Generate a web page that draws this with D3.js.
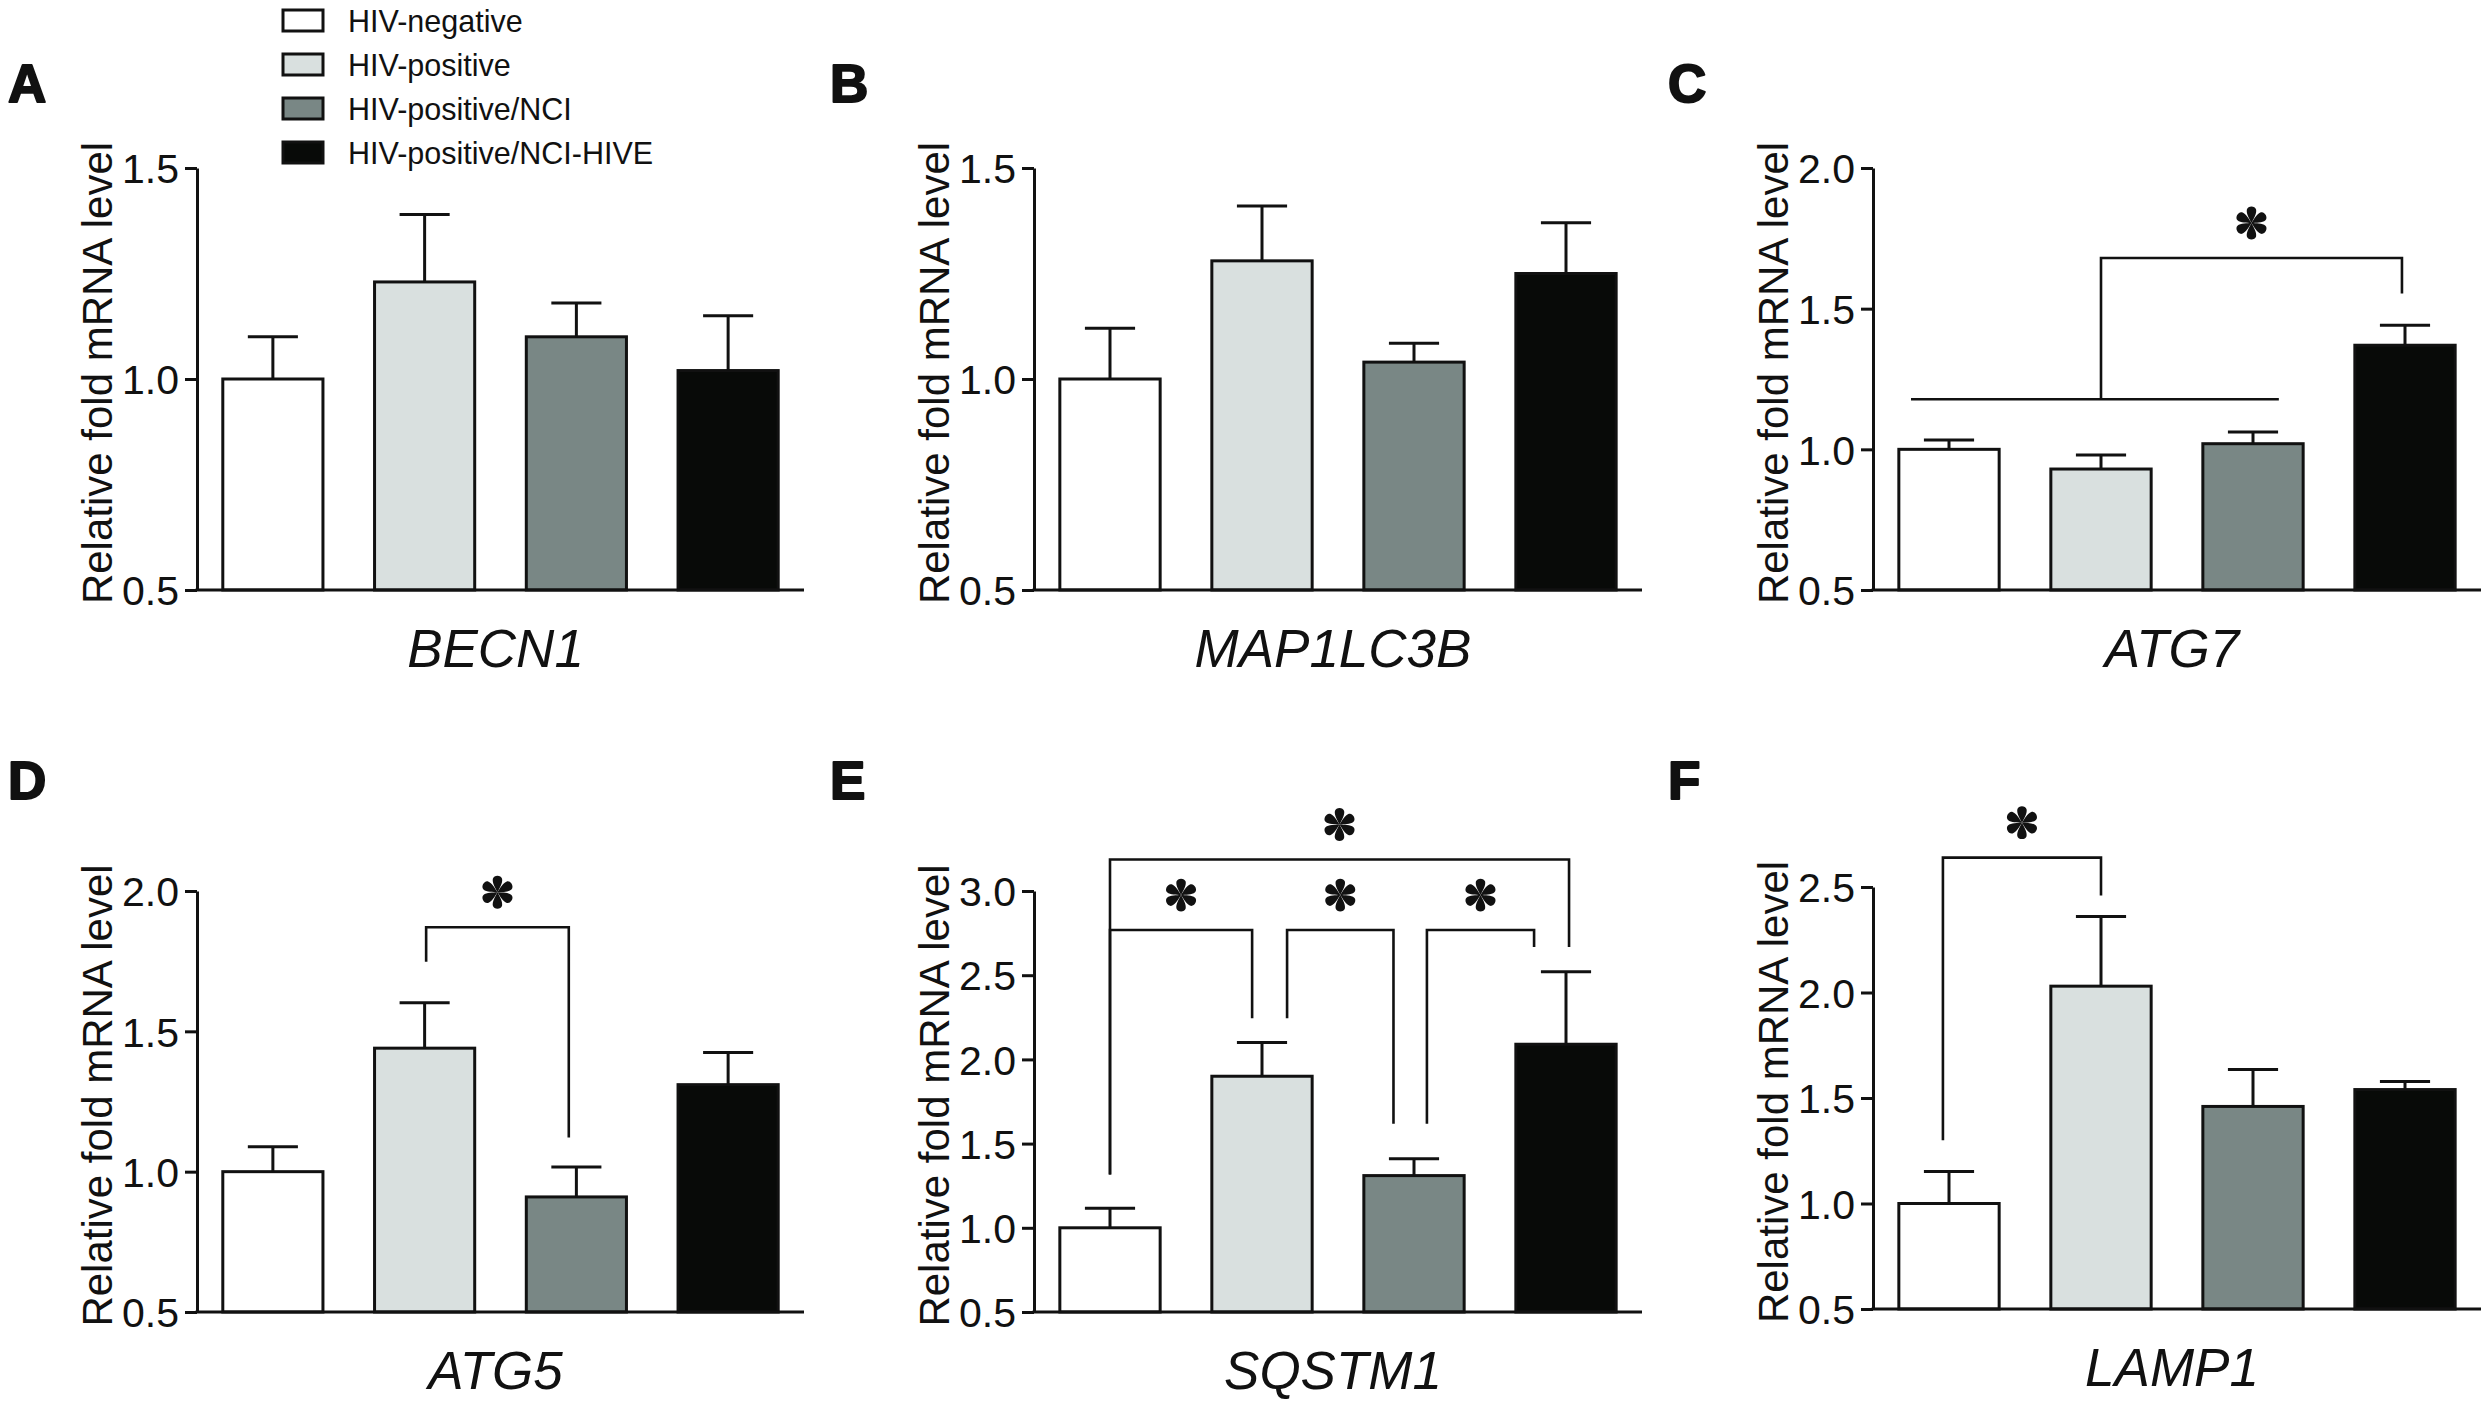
<!DOCTYPE html>
<html>
<head>
<meta charset="utf-8">
<script src="https://cdn.jsdelivr.net/npm/d3@7"></script>
<style>
  html, body { margin: 0; padding: 0; background: #ffffff; }
  svg { display: block; }
</style>
</head>
<body>
<svg id="chart" width="2492" height="1403"></svg>
<script>
// ---------------- DATA ----------------
const groups = ["HIV-negative", "HIV-positive", "HIV-positive/NCI", "HIV-positive/NCI-HIVE"];
const groupColors = ["#ffffff", "#d9e0df", "#798785", "#080a08"];
const genes = ["BECN1", "MAP1LC3B", "ATG7", "ATG5", "SQSTM1", "LAMP1"];
const panelLetters = ["A", "B", "C", "D", "E", "F"];
const yAxisTitle = "Relative fold mRNA level";

const meanBECN1    = [1.00, 1.23, 1.10, 1.02];
const meanMAP1LC3B = [1.00, 1.28, 1.04, 1.25];
const meanATG7     = [1.00, 0.93, 1.02, 1.37];
const meanATG5     = [1.00, 1.44, 0.91, 1.31];
const meanSQSTM1   = [1.00, 1.90, 1.31, 2.09];
const meanLAMP1    = [1.00, 2.03, 1.46, 1.54];

const semBECN1    = [0.10, 0.16, 0.08, 0.13];
const semMAP1LC3B = [0.12, 0.13, 0.045, 0.12];
const semATG7     = [0.033, 0.05, 0.042, 0.071];
const semATG5     = [0.089, 0.162, 0.107, 0.115];
const semSQSTM1   = [0.116, 0.20, 0.10, 0.43];
const semLAMP1    = [0.152, 0.33, 0.175, 0.038];

const yMaxByPanel = [1.5, 1.5, 2.0, 2.0, 3.0, 2.5];
const yTicksA = [0.5, 1.0, 1.5];
const yTicksB = [0.5, 1.0, 1.5];
const yTicksC = [0.5, 1.0, 1.5, 2.0];
const yTicksD = [0.5, 1.0, 1.5, 2.0];
const yTicksE = [0.5, 1.0, 1.5, 2.0, 2.5, 3.0];
const yTicksF = [0.5, 1.0, 1.5, 2.0, 2.5];

// significance brackets: from/to = group index, y = bracket level (data units),
// yFrom / yTo = leg ends (data units), dFrom / dTo = nudge of leg (fraction of band step)
const bracketsC = [{from: 1, to: 3, y: 1.68, yFrom: 1.178, yTo: 1.554, dFrom: 0.0, dTo: -0.02, star: true}];
const spansC    = [{from: 0, to: 2, y: 1.178, dFrom: -0.25, dTo: 0.17}];
const bracketsD = [{from: 1, to: 2, y: 1.871, yFrom: 1.748, yTo: 1.122, dFrom: 0.01, dTo: -0.05, star: true}];
const bracketsE = [
  {from: 0, to: 3, y: 3.187, yFrom: 1.316, yTo: 2.667, dFrom: 0.0, dTo: 0.02, star: true},
  {from: 0, to: 1, y: 2.768, yFrom: 1.316, yTo: 2.244, dFrom: 0.0, dTo: -0.065, star: true},
  {from: 1, to: 2, y: 2.768, yFrom: 2.244, yTo: 1.618, dFrom: 0.165, dTo: -0.135, star: true},
  {from: 2, to: 3, y: 2.768, yFrom: 1.618, yTo: 2.667, dFrom: 0.085, dTo: -0.21, star: true}
];
const bracketsF = [{from: 0, to: 1, y: 2.639, yFrom: 1.30, yTo: 2.46, dFrom: -0.04, dTo: 0.0, star: true}];

const meansAll = [meanBECN1, meanMAP1LC3B, meanATG7, meanATG5, meanSQSTM1, meanLAMP1];
const semsAll = [semBECN1, semMAP1LC3B, semATG7, semATG5, semSQSTM1, semLAMP1];
const ticksAll = [yTicksA, yTicksB, yTicksC, yTicksD, yTicksE, yTicksF];
const bracketsAll = [[], [], bracketsC, bracketsD, bracketsE, bracketsF];
const spansAll = [[], [], spansC, [], [], []];

// ---------------- LAYOUT ----------------
const colAxisX = [197, 1034, 1873];
const colRight = [804, 1642, 2481];
const rowTop = [168, 891];
const rowBottom = [590, 1312];
const letterX = [8, 830, 1668];
const letterY = [102, 799];

const svg = d3.select("#chart");
const FONT = "'Liberation Sans', Arial, Helvetica, sans-serif";
const NARROW = "'Liberation Sans Narrow', 'Arial Narrow', 'Liberation Sans', Arial, sans-serif";

function starPath() {
  return "M0,0 C-2,-4 -5.5,-9.5 -4.6,-13.5 C-3.6,-17.4 3.6,-17.4 4.6,-13.5 C5.5,-9.5 2,-4 0,0 Z";
}
function drawStar(g, cx, cy) {
  const s = g.append("g").attr("transform", `translate(${cx},${cy})`);
  d3.range(6).forEach(k => {
    s.append("path").attr("d", starPath()).attr("transform", `rotate(${k * 60})`).attr("fill", "#111");
  });
}

genes.forEach((gene, p) => {
  const col = p % 3, row = Math.floor(p / 3);
  let top = rowTop[row], bottom = rowBottom[row];
  if (p === 5) { top = 887; bottom = 1309; }
  const x0 = colAxisX[col], x1 = colRight[col];

  const x = d3.scaleBand().domain(groups).range([x0, x1]).paddingInner(0.34).paddingOuter(0.17);
  const y = d3.scaleLinear().domain([0.5, yMaxByPanel[p]]).range([bottom, top]);
  const g = svg.append("g");

  const rows = groups.map((grp, i) => ({grp, i, m: meansAll[p][i], e: semsAll[p][i]}));

  // bars
  g.selectAll("rect.bar").data(rows).enter().append("rect")
    .attr("x", d => x(d.grp)).attr("width", x.bandwidth())
    .attr("y", d => y(d.m)).attr("height", d => y(0.5) - y(d.m))
    .attr("fill", d => groupColors[d.i]).attr("stroke", "#111").attr("stroke-width", 3);

  // error bars (upper)
  const cap = x.bandwidth() * 0.25;
  rows.forEach(d => {
    const cx = x(d.grp) + x.bandwidth() / 2;
    g.append("line").attr("x1", cx).attr("x2", cx).attr("y1", y(d.m)).attr("y2", y(d.m + d.e))
      .attr("stroke", "#111").attr("stroke-width", 3);
    g.append("line").attr("x1", cx - cap).attr("x2", cx + cap).attr("y1", y(d.m + d.e)).attr("y2", y(d.m + d.e))
      .attr("stroke", "#111").attr("stroke-width", 3);
  });

  // y axis
  const yAxis = d3.axisLeft(y).tickValues(ticksAll[p]).tickFormat(d3.format(".1f")).tickSize(12).tickSizeOuter(0).tickPadding(6);
  const ax = g.append("g").attr("transform", `translate(${x0},0)`).call(yAxis);
  ax.select(".domain").attr("stroke", "#111").attr("stroke-width", 3);
  ax.selectAll(".tick line").attr("stroke", "#111").attr("stroke-width", 3);
  ax.selectAll(".tick text").attr("font-family", NARROW).attr("font-size", 41).attr("fill", "#111").attr("dy", "0.36em");

  // x axis line
  g.append("line").attr("x1", x0 - 1.5).attr("x2", x1).attr("y1", y(0.5)).attr("y2", y(0.5))
    .attr("stroke", "#111").attr("stroke-width", 3.2);

  // x label (gene)
  g.append("text").attr("x", (x0 + x1) / 2 - 5).attr("y", bottom + 77)
    .attr("text-anchor", "middle").attr("font-family", FONT).attr("font-style", "italic")
    .attr("font-size", 53).attr("fill", "#111").text(gene);

  // y title
  g.append("text").attr("transform", `translate(${x0 - 85},${(top + bottom) / 2 - 6}) rotate(-90)`)
    .attr("text-anchor", "middle").attr("font-family", FONT).attr("font-size", 42).attr("fill", "#111")
    .text(yAxisTitle);

  // panel letter
  svg.append("text").attr("x", letterX[col]).attr("y", letterY[row])
    .attr("font-family", FONT).attr("font-weight", "bold").attr("font-size", 53).attr("fill", "#111")
    .attr("stroke", "#111").attr("stroke-width", 2).attr("stroke-linejoin", "round")
    .text(panelLetters[p]);

  // spans (plain horizontal lines)
  const step = x.step();
  const cen = i => x(groups[i]) + x.bandwidth() / 2;
  spansAll[p].forEach(s => {
    g.append("line").attr("x1", cen(s.from) + s.dFrom * step).attr("x2", cen(s.to) + s.dTo * step)
      .attr("y1", y(s.y)).attr("y2", y(s.y)).attr("stroke", "#111").attr("stroke-width", 2.6);
  });
  // brackets
  bracketsAll[p].forEach(b => {
    const xa = cen(b.from) + b.dFrom * step, xb = cen(b.to) + b.dTo * step;
    const path = d3.path();
    path.moveTo(xa, y(b.yFrom)); path.lineTo(xa, y(b.y)); path.lineTo(xb, y(b.y)); path.lineTo(xb, y(b.yTo));
    g.append("path").attr("d", path.toString()).attr("fill", "none").attr("stroke", "#111").attr("stroke-width", 2.6);
    if (b.star) drawStar(g, (xa + xb) / 2, y(b.y) - 35);
  });
});

// legend
const legend = svg.append("g");
groups.forEach((grp, i) => {
  legend.append("rect").attr("x", 283).attr("y", 10 + i * 44).attr("width", 40).attr("height", 21)
    .attr("fill", groupColors[i]).attr("stroke", "#111").attr("stroke-width", 3);
  legend.append("text").attr("x", 348).attr("y", 31.5 + i * 44).attr("font-family", FONT)
    .attr("font-size", 30.5).attr("fill", "#111").text(grp);
});
</script>
</body>
</html>
